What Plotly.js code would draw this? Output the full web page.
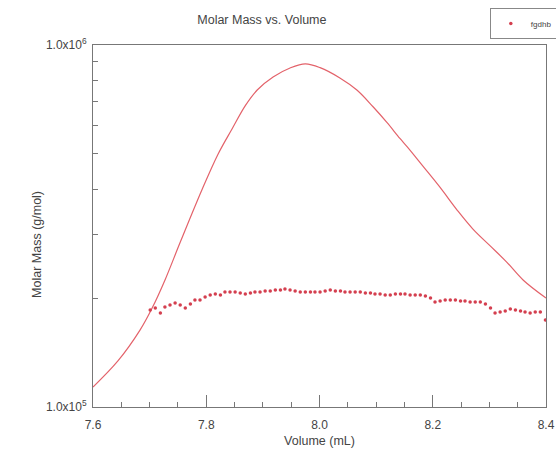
<!DOCTYPE html>
<html>
<head>
<meta charset="utf-8">
<script src="https://cdn.plot.ly/plotly-3.0.1.min.js"></script>
<style>html,body{margin:0;padding:0;background:#fff;}#chart{width:556px;height:451px;}</style>
</head>
<body>
<div id="chart"></div>
<script>
// Red curve (peak trace)
var curveVolume = [7.600, 7.644, 7.683, 7.704, 7.727, 7.754, 7.793, 7.821, 7.846, 7.869, 7.890, 7.918, 7.948, 7.975, 8.001, 8.036, 8.066, 8.095, 8.119, 8.142, 8.155, 8.183, 8.213, 8.243, 8.271, 8.301, 8.331, 8.360, 8.400];
var curveMass = [113500, 134000, 163000, 187000, 224000, 285000, 400000, 500000, 588000, 680000, 751000, 816000, 864000, 887000, 866000, 811000, 751000, 674000, 611000, 552000, 523000, 462000, 404000, 350000, 310000, 279000, 251000, 224000, 200000];

// Molar mass points (series "fgdhb")
var pointVolume = [7.701, 7.710, 7.719, 7.727, 7.736, 7.745, 7.754, 7.763, 7.772, 7.780,
  7.789, 7.798, 7.807, 7.816, 7.825, 7.833, 7.842, 7.851, 7.860, 7.869,
  7.878, 7.886, 7.895, 7.904, 7.913, 7.922, 7.931, 7.939, 7.948, 7.957,
  7.966, 7.975, 7.984, 7.992, 8.001, 8.010, 8.019, 8.028, 8.037, 8.045,
  8.054, 8.063, 8.072, 8.081, 8.090, 8.098, 8.107, 8.116, 8.125, 8.134,
  8.143, 8.151, 8.160, 8.169, 8.178, 8.187, 8.196, 8.204, 8.213, 8.222,
  8.231, 8.240, 8.249, 8.257, 8.266, 8.275, 8.284, 8.293, 8.302, 8.310,
  8.319, 8.328, 8.337, 8.346, 8.355, 8.363, 8.372, 8.381, 8.390, 8.399];
var pointMass = [185300, 187600, 181800, 188800, 191300, 193700, 191300, 187600, 192500, 197500,
  197500, 201300, 203900, 205200, 203900, 207800, 207800, 207800, 206500, 205200,
  206500, 207800, 207800, 209100, 209100, 210500, 210500, 211800, 210500, 209100,
  207800, 207800, 207800, 207800, 207800, 209100, 210500, 209100, 209100, 207800,
  207800, 207800, 207800, 206500, 206500, 205200, 205200, 203900, 203900, 205200,
  205200, 205200, 203900, 203900, 203900, 202600, 200000, 195000, 196200, 197500,
  197500, 197500, 196200, 196200, 195000, 195000, 195000, 192500, 187600, 181800,
  182900, 184100, 186500, 185300, 184100, 182900, 181800, 182900, 182900, 173900];

var yTickVals = [100000, 200000, 300000, 400000, 500000, 600000, 700000, 800000, 900000, 1000000];
var yTickText = ['1.0x10<sup>5</sup>', '', '', '', '', '', '', '', '', '1.0x10<sup>6</sup>'];
var xTickVals = [7.6, 7.8, 8.0, 8.2, 8.4];
var xTickText = ['7.6', '7.8', '8.0', '8.2', '8.4'];

var font = "Liberation Sans, Arial, sans-serif";
var traces = [
  {x: curveVolume, y: curveMass, mode: 'lines', type: 'scatter', showlegend: false,
   line: {color: '#e3626a', width: 1.2, shape: 'spline', smoothing: 1}, hoverinfo: 'skip'},
  {x: pointVolume, y: pointMass, mode: 'markers', type: 'scatter', name: 'fgdhb',
   marker: {color: '#d43f4f', size: 3.5, symbol: 'circle'}}
];
var layout = {
  width: 556, height: 451,
  margin: {l: 93, r: 10, t: 45, b: 44, autoexpand: false},
  paper_bgcolor: '#ffffff', plot_bgcolor: '#ffffff',
  font: {family: font, color: '#444', size: 12},
  title: {text: 'Molar Mass vs. Volume', x: 0.471, xref: 'container', xanchor: 'center',
          y: 0.956, yref: 'container', yanchor: 'middle', font: {size: 12.5, color: '#444'}},
  showlegend: true,
  legend: {x: 0.876, xanchor: 'left', y: 1.102, yanchor: 'top',
           bgcolor: '#fff', bordercolor: '#888', borderwidth: 1, font: {size: 8, color: '#444'},
           itemwidth: 30, tracegroupgap: 0},
  xaxis: {range: [7.6, 8.4], tickmode: 'array', tickvals: xTickVals, ticktext: xTickText,
          ticks: 'inside', ticklen: 12, tickcolor: '#777', tickwidth: 1, ticklabelstandoff: 7,
          minor: {dtick: 0.05, tick0: 7.6, ticks: 'inside', ticklen: 5, tickcolor: '#777', tickwidth: 1},
          showline: true, linecolor: '#777', linewidth: 1, mirror: true, showgrid: false, zeroline: false,
          tickfont: {size: 12, color: '#444'},
          title: {text: 'Volume (mL)', font: {size: 12.5, color: '#444'}, standoff: 4}},
  yaxis: {type: 'log', range: [5, 6], tickmode: 'array', tickvals: yTickVals, ticktext: yTickText,
          ticks: 'inside', ticklen: 5, tickcolor: '#777', tickwidth: 1, ticklabelstandoff: 3,
          showline: true, linecolor: '#777', linewidth: 1, mirror: true, showgrid: false, zeroline: false,
          tickfont: {size: 12, color: '#444'}},
  annotations: [{text: 'Molar Mass (g/mol)', textangle: -90, xref: 'paper', yref: 'paper',
                 x: -0.124, y: 0.45, xanchor: 'center', yanchor: 'middle', showarrow: false,
                 font: {size: 12.5, color: '#444'}}]
};
Plotly.newPlot('chart', traces, layout, {displayModeBar: false, staticPlot: true});
</script>
</body>
</html>
